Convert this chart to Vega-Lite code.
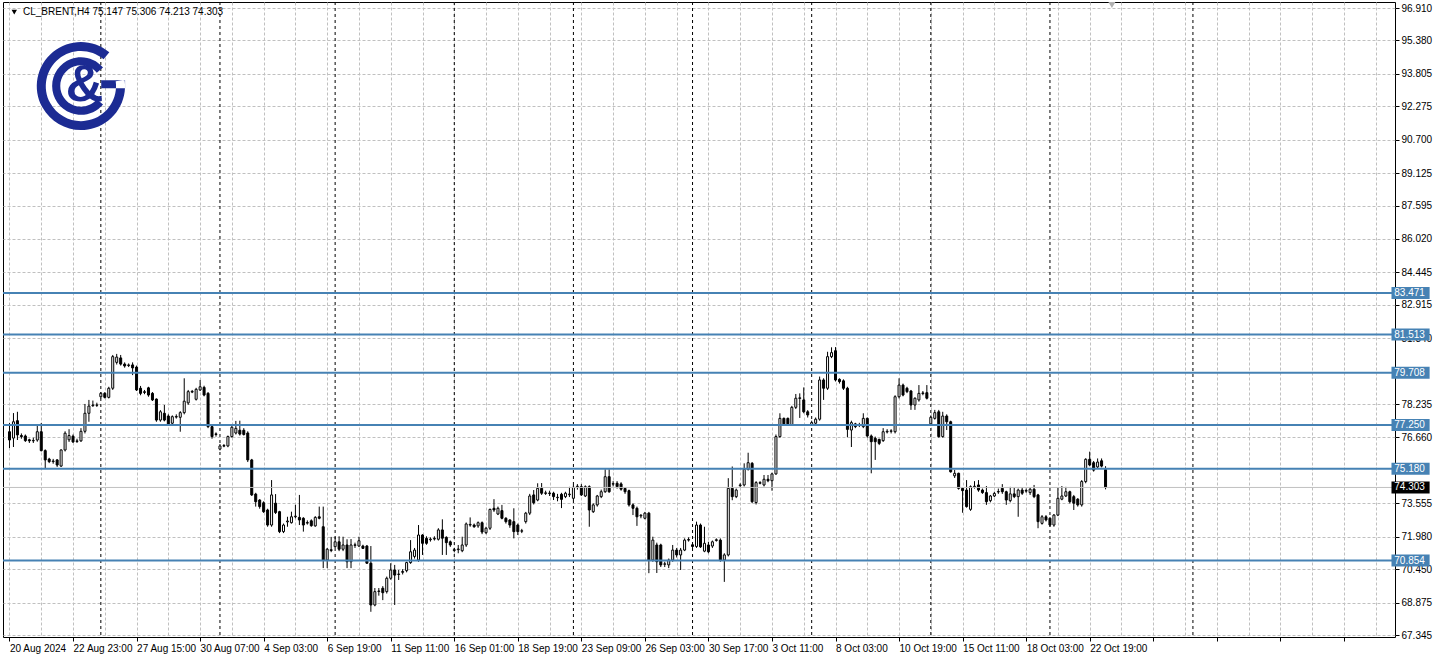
{
"$schema": "https://vega.github.io/schema/vega-lite/v6.json",
"width": 1392,
"height": 635,
"autosize": {"type": "none"},
"padding": {"left": 3, "top": 2, "right": 43, "bottom": 23},
"background": "white",
"config": {"view": {"stroke": "#000000", "strokeWidth": 1}, "font": "Liberation Sans"},
"datasets": {
"bars": [
{"n":1,"o":76.93,"h":77.34,"l":76.16,"c":76.54},
{"n":2,"o":76.63,"h":77.81,"l":76.21,"c":77.40},
{"n":3,"o":77.45,"h":77.87,"l":76.54,"c":76.78},
{"n":4,"o":76.75,"h":76.85,"l":76.60,"c":76.70},
{"n":5,"o":76.73,"h":76.80,"l":76.45,"c":76.51},
{"n":6,"o":76.55,"h":76.60,"l":76.40,"c":76.50},
{"n":7,"o":76.50,"h":76.65,"l":76.40,"c":76.52},
{"n":8,"o":76.54,"h":77.20,"l":76.46,"c":76.93},
{"n":9,"o":76.93,"h":77.34,"l":76.00,"c":76.04},
{"n":10,"o":76.04,"h":76.10,"l":75.17,"c":75.60},
{"n":11,"o":75.64,"h":75.70,"l":75.45,"c":75.52},
{"n":12,"o":75.52,"h":75.65,"l":75.42,"c":75.55},
{"n":13,"o":75.60,"h":75.64,"l":75.27,"c":75.36},
{"n":14,"o":75.31,"h":76.10,"l":75.27,"c":76.07},
{"n":15,"o":76.07,"h":76.95,"l":76.00,"c":76.86},
{"n":16,"o":76.55,"h":77.05,"l":76.45,"c":76.75},
{"n":17,"o":76.72,"h":76.80,"l":76.40,"c":76.45},
{"n":18,"o":76.47,"h":76.60,"l":76.40,"c":76.50},
{"n":19,"o":76.50,"h":77.10,"l":76.45,"c":76.95},
{"n":20,"o":76.95,"h":78.24,"l":76.85,"c":77.80},
{"n":21,"o":77.80,"h":78.43,"l":77.40,"c":78.14},
{"n":22,"o":78.16,"h":78.40,"l":78.10,"c":78.19},
{"n":23,"o":78.19,"h":78.30,"l":78.10,"c":78.18},
{"n":24,"o":78.58,"h":78.80,"l":78.50,"c":78.74},
{"n":25,"o":78.74,"h":78.80,"l":78.50,"c":78.55},
{"n":26,"o":78.55,"h":79.05,"l":78.50,"c":78.98},
{"n":27,"o":78.98,"h":80.55,"l":78.90,"c":80.47},
{"n":28,"o":80.20,"h":80.60,"l":80.10,"c":80.45},
{"n":29,"o":80.41,"h":80.55,"l":80.05,"c":80.12},
{"n":30,"o":80.12,"h":80.20,"l":79.95,"c":80.03},
{"n":31,"o":80.05,"h":80.15,"l":79.98,"c":80.08},
{"n":32,"o":80.08,"h":80.20,"l":79.60,"c":79.94},
{"n":33,"o":79.98,"h":80.05,"l":78.85,"c":78.90},
{"n":34,"o":78.98,"h":79.09,"l":78.65,"c":78.74},
{"n":35,"o":78.78,"h":78.90,"l":78.70,"c":78.82},
{"n":36,"o":79.00,"h":79.05,"l":78.58,"c":78.66},
{"n":37,"o":78.74,"h":78.80,"l":78.38,"c":78.43},
{"n":38,"o":78.47,"h":78.50,"l":77.40,"c":77.48},
{"n":39,"o":77.48,"h":77.95,"l":77.40,"c":77.87},
{"n":40,"o":77.80,"h":78.19,"l":77.42,"c":77.48},
{"n":41,"o":77.67,"h":77.75,"l":77.20,"c":77.25},
{"n":42,"o":77.33,"h":77.70,"l":77.25,"c":77.64},
{"n":43,"o":77.62,"h":77.75,"l":77.55,"c":77.65},
{"n":44,"o":77.61,"h":77.90,"l":76.93,"c":77.83},
{"n":45,"o":77.83,"h":79.45,"l":77.75,"c":78.37},
{"n":46,"o":78.29,"h":78.90,"l":78.20,"c":78.82},
{"n":47,"o":78.80,"h":78.90,"l":78.75,"c":78.83},
{"n":48,"o":78.46,"h":79.00,"l":78.40,"c":78.93},
{"n":49,"o":78.90,"h":79.37,"l":78.85,"c":79.05},
{"n":50,"o":79.02,"h":79.10,"l":78.60,"c":78.66},
{"n":51,"o":78.74,"h":78.80,"l":77.10,"c":77.17},
{"n":52,"o":77.17,"h":77.20,"l":76.60,"c":76.70},
{"n":53,"o":76.80,"h":76.90,"l":76.70,"c":76.83},
{"n":54,"o":76.11,"h":76.35,"l":76.05,"c":76.26},
{"n":55,"o":76.25,"h":76.35,"l":76.20,"c":76.28},
{"n":56,"o":76.26,"h":76.75,"l":76.20,"c":76.70},
{"n":57,"o":76.70,"h":77.20,"l":76.65,"c":77.14},
{"n":58,"o":76.87,"h":77.44,"l":76.80,"c":77.09},
{"n":59,"o":77.00,"h":77.45,"l":76.75,"c":76.82},
{"n":60,"o":77.00,"h":77.10,"l":76.75,"c":76.80},
{"n":61,"o":76.87,"h":76.95,"l":75.50,"c":75.60},
{"n":62,"o":75.60,"h":75.65,"l":73.90,"c":73.95},
{"n":63,"o":73.99,"h":74.05,"l":73.40,"c":73.63},
{"n":64,"o":73.71,"h":73.75,"l":73.30,"c":73.40},
{"n":65,"o":73.58,"h":73.65,"l":73.10,"c":73.16},
{"n":66,"o":73.24,"h":73.30,"l":72.45,"c":72.53},
{"n":67,"o":72.53,"h":74.65,"l":72.45,"c":73.95},
{"n":68,"o":73.56,"h":73.99,"l":73.05,"c":73.12},
{"n":69,"o":73.16,"h":73.20,"l":72.15,"c":72.22},
{"n":70,"o":72.22,"h":72.60,"l":72.15,"c":72.53},
{"n":71,"o":72.68,"h":72.92,"l":72.45,"c":72.72},
{"n":72,"o":72.64,"h":73.16,"l":72.60,"c":72.92},
{"n":73,"o":72.92,"h":73.48,"l":72.85,"c":72.95},
{"n":74,"o":72.89,"h":73.95,"l":72.53,"c":72.77},
{"n":75,"o":72.85,"h":72.90,"l":72.22,"c":72.53},
{"n":76,"o":72.62,"h":72.75,"l":72.55,"c":72.65},
{"n":77,"o":72.73,"h":72.80,"l":72.45,"c":72.50},
{"n":78,"o":72.49,"h":72.95,"l":72.45,"c":72.89},
{"n":79,"o":72.92,"h":73.40,"l":72.80,"c":72.85},
{"n":80,"o":72.45,"h":73.40,"l":70.50,"c":70.88},
{"n":81,"o":70.88,"h":71.45,"l":70.50,"c":71.39},
{"n":82,"o":71.33,"h":71.97,"l":71.25,"c":71.37},
{"n":83,"o":71.51,"h":71.98,"l":71.45,"c":71.74},
{"n":84,"o":71.74,"h":72.00,"l":71.30,"c":71.39},
{"n":85,"o":71.39,"h":71.98,"l":71.30,"c":71.59},
{"n":86,"o":71.59,"h":71.86,"l":70.50,"c":70.80},
{"n":87,"o":70.80,"h":71.87,"l":70.50,"c":71.59},
{"n":88,"o":71.57,"h":71.70,"l":71.45,"c":71.60},
{"n":89,"o":71.54,"h":71.98,"l":71.50,"c":71.79},
{"n":90,"o":71.54,"h":71.60,"l":71.40,"c":71.43},
{"n":91,"o":71.54,"h":71.59,"l":70.70,"c":70.73},
{"n":92,"o":70.73,"h":71.54,"l":68.44,"c":68.76},
{"n":93,"o":68.76,"h":69.56,"l":68.70,"c":69.39},
{"n":94,"o":69.40,"h":69.56,"l":69.20,"c":69.42},
{"n":95,"o":69.55,"h":69.65,"l":68.99,"c":69.34},
{"n":96,"o":69.39,"h":70.10,"l":69.30,"c":70.02},
{"n":97,"o":70.02,"h":70.73,"l":69.95,"c":70.41},
{"n":98,"o":70.41,"h":70.65,"l":68.76,"c":70.17},
{"n":99,"o":70.20,"h":70.41,"l":69.94,"c":70.22},
{"n":100,"o":70.30,"h":70.45,"l":70.20,"c":70.34},
{"n":101,"o":70.38,"h":70.80,"l":70.30,"c":70.76},
{"n":102,"o":70.76,"h":71.82,"l":70.70,"c":71.27},
{"n":103,"o":71.05,"h":71.45,"l":70.95,"c":71.35},
{"n":104,"o":70.88,"h":72.53,"l":70.80,"c":72.06},
{"n":105,"o":72.06,"h":72.10,"l":71.12,"c":71.67},
{"n":106,"o":71.90,"h":72.00,"l":71.60,"c":71.67},
{"n":107,"o":71.84,"h":71.95,"l":71.75,"c":71.87},
{"n":108,"o":71.87,"h":72.00,"l":71.80,"c":71.90},
{"n":109,"o":71.86,"h":72.38,"l":71.80,"c":72.30},
{"n":110,"o":72.30,"h":72.80,"l":71.12,"c":71.91},
{"n":111,"o":71.95,"h":72.00,"l":71.12,"c":71.70},
{"n":112,"o":71.74,"h":71.80,"l":71.50,"c":71.59},
{"n":113,"o":71.33,"h":71.45,"l":71.25,"c":71.37},
{"n":114,"o":71.37,"h":71.59,"l":71.20,"c":71.40},
{"n":115,"o":71.32,"h":71.98,"l":71.25,"c":71.59},
{"n":116,"o":71.59,"h":72.65,"l":71.50,"c":72.58},
{"n":117,"o":72.53,"h":72.89,"l":72.45,"c":72.56},
{"n":118,"o":72.53,"h":72.60,"l":72.40,"c":72.45},
{"n":119,"o":72.49,"h":72.70,"l":72.40,"c":72.64},
{"n":120,"o":72.64,"h":72.70,"l":72.10,"c":72.20},
{"n":121,"o":72.17,"h":72.45,"l":72.10,"c":72.38},
{"n":122,"o":72.38,"h":73.30,"l":72.30,"c":73.27},
{"n":123,"o":73.32,"h":73.75,"l":73.15,"c":73.24},
{"n":124,"o":73.05,"h":73.40,"l":73.00,"c":73.32},
{"n":125,"o":73.21,"h":73.48,"l":72.80,"c":72.85},
{"n":126,"o":72.85,"h":72.90,"l":72.60,"c":72.69},
{"n":127,"o":72.77,"h":72.80,"l":72.40,"c":72.53},
{"n":128,"o":72.69,"h":73.32,"l":71.90,"c":72.22},
{"n":129,"o":72.53,"h":72.60,"l":72.06,"c":72.22},
{"n":130,"o":72.24,"h":72.35,"l":72.15,"c":72.26},
{"n":131,"o":72.69,"h":73.15,"l":72.60,"c":73.09},
{"n":132,"o":73.09,"h":74.00,"l":73.00,"c":73.90},
{"n":133,"o":73.95,"h":74.18,"l":73.50,"c":73.58},
{"n":134,"o":73.71,"h":74.50,"l":73.65,"c":74.26},
{"n":135,"o":74.26,"h":74.51,"l":73.95,"c":74.03},
{"n":136,"o":74.02,"h":74.15,"l":73.95,"c":74.05},
{"n":137,"o":74.04,"h":74.15,"l":73.90,"c":74.02},
{"n":138,"o":74.03,"h":74.10,"l":73.71,"c":73.87},
{"n":139,"o":73.82,"h":74.00,"l":73.65,"c":73.84},
{"n":140,"o":73.98,"h":74.05,"l":73.33,"c":73.74},
{"n":141,"o":73.87,"h":74.10,"l":73.80,"c":74.03},
{"n":142,"o":73.96,"h":74.33,"l":73.85,"c":73.99},
{"n":143,"o":73.79,"h":74.42,"l":73.70,"c":74.31},
{"n":144,"o":74.34,"h":74.46,"l":74.20,"c":74.36},
{"n":145,"o":74.34,"h":74.46,"l":73.90,"c":73.95},
{"n":146,"o":73.90,"h":74.40,"l":73.85,"c":74.34},
{"n":147,"o":74.34,"h":74.40,"l":72.45,"c":73.24},
{"n":148,"o":73.16,"h":73.55,"l":73.10,"c":73.48},
{"n":149,"o":73.48,"h":73.95,"l":73.40,"c":73.90},
{"n":150,"o":73.87,"h":74.20,"l":73.80,"c":74.10},
{"n":151,"o":74.10,"h":75.16,"l":74.05,"c":74.81},
{"n":152,"o":74.81,"h":75.16,"l":74.05,"c":74.10},
{"n":153,"o":74.46,"h":74.60,"l":74.35,"c":74.48},
{"n":154,"o":74.50,"h":74.60,"l":74.25,"c":74.34},
{"n":155,"o":74.47,"h":74.55,"l":74.15,"c":74.22},
{"n":156,"o":74.26,"h":74.30,"l":74.00,"c":74.10},
{"n":157,"o":74.15,"h":74.20,"l":73.40,"c":73.48},
{"n":158,"o":73.48,"h":73.55,"l":73.00,"c":73.32},
{"n":159,"o":73.32,"h":73.40,"l":72.49,"c":72.92},
{"n":160,"o":72.96,"h":73.05,"l":72.85,"c":72.99},
{"n":161,"o":72.85,"h":73.15,"l":72.80,"c":73.09},
{"n":162,"o":73.09,"h":73.15,"l":70.26,"c":70.88},
{"n":163,"o":70.88,"h":71.98,"l":70.80,"c":71.82},
{"n":164,"o":71.59,"h":71.70,"l":70.27,"c":70.80},
{"n":165,"o":71.59,"h":71.65,"l":70.55,"c":70.65},
{"n":166,"o":70.68,"h":70.80,"l":70.55,"c":70.70},
{"n":167,"o":70.65,"h":70.95,"l":70.50,"c":70.88},
{"n":168,"o":70.88,"h":71.59,"l":70.80,"c":71.35},
{"n":169,"o":71.35,"h":71.45,"l":71.00,"c":71.12},
{"n":170,"o":71.12,"h":71.45,"l":70.41,"c":71.35},
{"n":171,"o":71.35,"h":71.90,"l":71.30,"c":71.82},
{"n":172,"o":71.82,"h":71.95,"l":71.75,"c":71.85},
{"n":173,"o":71.60,"h":71.65,"l":71.45,"c":71.52},
{"n":174,"o":71.52,"h":72.69,"l":71.45,"c":72.53},
{"n":175,"o":72.53,"h":72.60,"l":71.45,"c":71.50},
{"n":176,"o":71.30,"h":72.45,"l":71.25,"c":71.67},
{"n":177,"o":71.59,"h":71.74,"l":71.20,"c":71.27},
{"n":178,"o":71.54,"h":71.80,"l":71.45,"c":71.74},
{"n":179,"o":71.80,"h":71.90,"l":71.75,"c":71.84},
{"n":180,"o":71.82,"h":71.90,"l":70.80,"c":70.88},
{"n":181,"o":70.88,"h":71.20,"l":69.85,"c":71.12},
{"n":182,"o":71.12,"h":74.74,"l":71.05,"c":74.26},
{"n":183,"o":74.26,"h":75.29,"l":73.70,"c":73.87},
{"n":184,"o":73.87,"h":74.25,"l":73.80,"c":74.18},
{"n":185,"o":74.39,"h":74.50,"l":74.30,"c":74.42},
{"n":186,"o":74.42,"h":75.44,"l":74.35,"c":75.16},
{"n":187,"o":75.16,"h":75.94,"l":75.10,"c":75.47},
{"n":188,"o":75.44,"h":75.50,"l":73.56,"c":73.63},
{"n":189,"o":73.59,"h":74.60,"l":73.50,"c":74.53},
{"n":190,"o":74.50,"h":74.60,"l":74.45,"c":74.53},
{"n":191,"o":74.42,"h":74.89,"l":74.35,"c":74.69},
{"n":192,"o":74.69,"h":74.89,"l":74.55,"c":74.62},
{"n":193,"o":74.62,"h":75.00,"l":74.15,"c":74.94},
{"n":194,"o":74.94,"h":76.80,"l":74.90,"c":76.70},
{"n":195,"o":76.70,"h":77.80,"l":76.65,"c":77.56},
{"n":196,"o":77.56,"h":77.60,"l":77.25,"c":77.30},
{"n":197,"o":77.56,"h":77.60,"l":77.25,"c":77.30},
{"n":198,"o":77.25,"h":78.15,"l":77.20,"c":78.08},
{"n":199,"o":78.08,"h":78.71,"l":78.00,"c":78.51},
{"n":200,"o":78.50,"h":78.74,"l":77.58,"c":78.53},
{"n":201,"o":78.43,"h":79.02,"l":77.80,"c":77.87},
{"n":202,"o":77.87,"h":77.95,"l":77.60,"c":77.72},
{"n":203,"o":77.26,"h":77.45,"l":77.20,"c":77.36},
{"n":204,"o":77.33,"h":77.60,"l":77.25,"c":77.52},
{"n":205,"o":77.52,"h":79.53,"l":77.45,"c":79.37},
{"n":206,"o":79.37,"h":79.45,"l":78.43,"c":78.98},
{"n":207,"o":78.98,"h":80.70,"l":78.90,"c":80.47},
{"n":208,"o":80.47,"h":80.91,"l":80.40,"c":80.66},
{"n":209,"o":80.75,"h":80.92,"l":79.30,"c":79.37},
{"n":210,"o":79.40,"h":79.45,"l":79.20,"c":79.29},
{"n":211,"o":79.33,"h":79.40,"l":78.90,"c":78.98},
{"n":212,"o":78.98,"h":79.05,"l":76.67,"c":77.04},
{"n":213,"o":77.01,"h":77.45,"l":76.21,"c":77.36},
{"n":214,"o":77.30,"h":77.35,"l":77.10,"c":77.17},
{"n":215,"o":77.24,"h":77.35,"l":77.15,"c":77.26},
{"n":216,"o":77.17,"h":77.80,"l":77.10,"c":77.56},
{"n":217,"o":77.56,"h":77.60,"l":76.65,"c":76.73},
{"n":218,"o":76.73,"h":76.80,"l":74.97,"c":76.46},
{"n":219,"o":76.62,"h":76.70,"l":75.60,"c":76.46},
{"n":220,"o":76.57,"h":76.60,"l":76.30,"c":76.38},
{"n":221,"o":76.51,"h":77.10,"l":76.45,"c":76.93},
{"n":222,"o":76.92,"h":77.05,"l":76.85,"c":76.95},
{"n":223,"o":76.95,"h":77.05,"l":76.85,"c":76.97},
{"n":224,"o":76.93,"h":78.65,"l":76.85,"c":78.58},
{"n":225,"o":78.58,"h":79.45,"l":78.50,"c":79.13},
{"n":226,"o":79.13,"h":79.20,"l":78.60,"c":78.66},
{"n":227,"o":78.98,"h":79.05,"l":78.75,"c":78.82},
{"n":228,"o":78.85,"h":78.90,"l":77.96,"c":78.19},
{"n":229,"o":78.19,"h":78.55,"l":77.96,"c":78.51},
{"n":230,"o":78.43,"h":79.13,"l":78.35,"c":78.74},
{"n":231,"o":78.73,"h":78.85,"l":78.65,"c":78.76},
{"n":232,"o":78.77,"h":79.13,"l":78.45,"c":78.51},
{"n":233,"o":77.30,"h":77.70,"l":77.25,"c":77.61},
{"n":234,"o":77.56,"h":77.96,"l":77.50,"c":77.83},
{"n":235,"o":77.87,"h":77.96,"l":76.65,"c":76.70},
{"n":236,"o":76.70,"h":77.87,"l":76.65,"c":77.67},
{"n":237,"o":77.67,"h":77.75,"l":77.01,"c":77.40},
{"n":238,"o":77.40,"h":77.45,"l":75.00,"c":75.04},
{"n":239,"o":74.85,"h":75.13,"l":74.75,"c":74.97},
{"n":240,"o":74.97,"h":75.00,"l":74.20,"c":74.26},
{"n":241,"o":74.26,"h":74.30,"l":73.11,"c":74.15},
{"n":242,"o":74.18,"h":74.65,"l":73.35,"c":73.40},
{"n":243,"o":73.27,"h":74.40,"l":73.20,"c":74.34},
{"n":244,"o":74.33,"h":74.60,"l":74.25,"c":74.36},
{"n":245,"o":74.42,"h":74.65,"l":74.10,"c":74.18},
{"n":246,"o":74.18,"h":74.25,"l":74.00,"c":74.06},
{"n":247,"o":74.06,"h":74.37,"l":73.48,"c":73.63},
{"n":248,"o":73.68,"h":73.95,"l":73.60,"c":73.90},
{"n":249,"o":73.90,"h":74.10,"l":73.85,"c":74.02},
{"n":250,"o":74.09,"h":74.25,"l":74.00,"c":74.11},
{"n":251,"o":74.26,"h":74.46,"l":74.00,"c":74.10},
{"n":252,"o":74.10,"h":74.15,"l":73.48,"c":73.71},
{"n":253,"o":73.68,"h":74.33,"l":73.60,"c":74.00},
{"n":254,"o":74.00,"h":74.28,"l":73.80,"c":73.87},
{"n":255,"o":73.87,"h":74.25,"l":72.92,"c":74.18},
{"n":256,"o":74.18,"h":74.30,"l":73.95,"c":74.03},
{"n":257,"o":74.13,"h":74.25,"l":74.05,"c":74.16},
{"n":258,"o":74.06,"h":74.30,"l":73.95,"c":74.22},
{"n":259,"o":74.22,"h":74.42,"l":73.80,"c":73.87},
{"n":260,"o":73.95,"h":74.00,"l":72.38,"c":72.69},
{"n":261,"o":72.61,"h":73.00,"l":72.55,"c":72.92},
{"n":262,"o":72.92,"h":73.00,"l":72.70,"c":72.77},
{"n":263,"o":72.85,"h":72.90,"l":72.45,"c":72.53},
{"n":264,"o":72.53,"h":73.05,"l":72.45,"c":73.00},
{"n":265,"o":73.00,"h":74.28,"l":72.95,"c":73.79},
{"n":266,"o":73.75,"h":74.37,"l":73.70,"c":73.90},
{"n":267,"o":73.90,"h":74.33,"l":73.85,"c":74.10},
{"n":268,"o":74.10,"h":74.15,"l":73.55,"c":73.63},
{"n":269,"o":73.87,"h":73.95,"l":73.24,"c":73.56},
{"n":270,"o":73.75,"h":73.80,"l":73.40,"c":73.48},
{"n":271,"o":73.48,"h":74.65,"l":73.40,"c":74.58},
{"n":272,"o":74.58,"h":75.68,"l":74.50,"c":75.63},
{"n":273,"o":75.63,"h":75.99,"l":75.30,"c":75.36},
{"n":274,"o":75.47,"h":75.55,"l":75.05,"c":75.12},
{"n":275,"o":75.27,"h":75.67,"l":75.20,"c":75.50},
{"n":276,"o":75.56,"h":75.67,"l":75.25,"c":75.31},
{"n":277,"o":75.147,"h":75.306,"l":74.213,"c":74.303}
],
"levels": [{"price":83.471},{"price":81.513},{"price":79.708},{"price":77.25},{"price":75.18},{"price":70.854}],
"last": [{"price":74.303}],
"weeks": [{"n":24},{"n":54},{"n":83},{"n":113},{"n":143},{"n":173},{"n":203},{"n":233},{"n":263},{"n":299}]
},
"layer": [
{
"data": {"name": "weeks"},
"mark": {"type": "rule", "color": "#000000", "strokeWidth": 1, "strokeDash": [3, 3]},
"encoding": {
"x": {"field": "n", "type": "quantitative", "scale": {"domain": [0.625, 348.625], "nice": false, "zero": false},
"axis": {"values": [1,9,17,25,33,41,49,57,65,73,81,89,97,105,113,121,129,137,145,153,161,169,177,185,193,201,209,217,225,233,241,249,257,265,273,281,289,297,305,313,321,329,337,345],
"tickCount": 200,
"orient": "bottom", "title": null, "domain": false, "grid": true, "gridColor": "#c0c0c0", "gridDash": [3, 2], "gridWidth": 1, "gridOpacity": 1,
"ticks": true, "tickColor": "#000000", "tickSize": 4, "tickWidth": 1,
"tickOpacity": {"condition": {"test": "datum.value % 16 == 1", "value": 1}, "value": 0},
"labelExpr": "datum.value % 16 == 1 ? (['20 Aug 2024','22 Aug 23:00','27 Aug 15:00','30 Aug 07:00','4 Sep 03:00','6 Sep 19:00','11 Sep 11:00','16 Sep 01:00','18 Sep 19:00','23 Sep 09:00','26 Sep 03:00','30 Sep 17:00','3 Oct 11:00','8 Oct 03:00','10 Oct 19:00','15 Oct 11:00','18 Oct 03:00','22 Oct 19:00'][(datum.value - 1) / 16] || '') : ''",
"labelAlign": "left", "labelBaseline": "top", "labelPadding": 2, "labelDx": 1,
"labelFont": "Liberation Sans", "labelFontSize": 10, "labelColor": "#000000",
"labelOverlap": false, "labelBound": false, "labelFlush": false}}
}
},
{
"data": {"name": "bars"},
"mark": {"type": "rule", "color": "#000000", "strokeWidth": 1},
"encoding": {
"x": {"field": "n", "type": "quantitative"},
"y": {"field": "l", "type": "quantitative", "scale": {"domain": [67.251, 97.193], "nice": false, "zero": false},
"axis": {"orient": "right", "title": null, "values": [96.91,95.38,93.805,92.275,90.7,89.125,87.595,86.02,84.445,82.915,81.34,78.235,76.66,73.555,71.98,70.45,68.875,67.345],
"tickCount": 200,
"format": ".3f", "domain": false, "grid": true, "gridColor": "#c0c0c0", "gridDash": [3, 2], "gridWidth": 1, "gridOpacity": 1,
"ticks": true, "tickColor": "#000000", "tickSize": 4, "labelPadding": 2,
"labelFont": "Liberation Sans", "labelFontSize": 10, "labelColor": "#000000", "labelOverlap": false, "labelBound": false, "labelFlush": false}},
"y2": {"field": "h"}
}
},
{
"data": {"name": "bars"},
"mark": {"type": "bar", "width": 2, "stroke": "#000000", "strokeWidth": 1},
"encoding": {
"x": {"field": "n", "type": "quantitative"},
"y": {"field": "o", "type": "quantitative"},
"y2": {"field": "c"},
"fill": {"condition": {"test": "datum.c >= datum.o", "value": "#ffffff"}, "value": "#000000"}
}
},
{
"data": {"name": "last"},
"mark": {"type": "rule", "color": "#c0c0c0", "strokeWidth": 1},
"encoding": {"y": {"field": "price", "type": "quantitative"}}
},
{
"data": {"name": "levels"},
"mark": {"type": "rule", "color": "#4682b4", "strokeWidth": 2},
"encoding": {"y": {"field": "price", "type": "quantitative"}}
},
{
"data": {"name": "levels"},
"mark": {"type": "rule", "color": "#4682b4", "strokeWidth": 12, "strokeCap": "butt"},
"encoding": {"x": {"datum": 349.0}, "x2": {"datum": 358.6}, "y": {"field": "price", "type": "quantitative"}}
},
{
"data": {"name": "levels"},
"mark": {"type": "text", "color": "#ffffff", "align": "left", "baseline": "middle", "font": "Liberation Sans", "fontSize": 10},
"encoding": {"x": {"datum": 349.7}, "y": {"field": "price", "type": "quantitative"}, "text": {"field": "price", "type": "quantitative", "format": ".3f"}}
},
{
"data": {"name": "last"},
"mark": {"type": "rule", "color": "#000000", "strokeWidth": 12, "strokeCap": "butt"},
"encoding": {"x": {"datum": 349.0}, "x2": {"datum": 358.6}, "y": {"field": "price", "type": "quantitative"}}
},
{
"data": {"name": "last"},
"mark": {"type": "text", "color": "#ffffff", "align": "left", "baseline": "middle", "font": "Liberation Sans", "fontSize": 10},
"encoding": {"x": {"datum": 349.7}, "y": {"field": "price", "type": "quantitative"}, "text": {"field": "price", "type": "quantitative", "format": ".3f"}}
},
{
"data": {"values": [{"t": "CL_BRENT,H4  75.147 75.306 74.213 74.303"}]},
"mark": {"type": "text", "color": "#000000", "align": "left", "baseline": "middle", "font": "Liberation Sans", "fontSize": 10},
"encoding": {"x": {"datum": 4.4}, "y": {"datum": 96.72}, "text": {"field": "t", "type": "nominal"}}
},
{
"data": {"values": [{"k": "menu"}]},
"mark": {"type": "point", "shape": "triangle-down", "filled": true, "color": "#000000", "opacity": 1, "size": 30},
"encoding": {"x": {"datum": 2.2}, "y": {"datum": 96.72}}
},
{
"data": {"values": [{"k": "shift"}]},
"mark": {"type": "point", "shape": "triangle-down", "filled": true, "color": "#b0b0b0", "opacity": 1, "size": 50},
"encoding": {"x": {"datum": 278.6}, "y": {"datum": 97.05}}
},
{
"data": {"values": [{"k": "logo"}]},
"mark": {"type": "point", "filled": true, "color": "#1c2b93", "opacity": 1, "strokeWidth": 0, "size": 8100,
"shape": "M 0.63 -0.751 A 0.98 0.98 0 1 0 0.97 -0.136 L 0.772 -0.108 A 0.78 0.78 0 1 1 0.502 -0.597 Z M 0.45 -0.13 L 0.98 -0.13 L 0.98 0.05 L 0.45 0.05 Z M 0.49 -0.411 A 0.64 0.64 0 1 0 0.49 0.411 L 0.352 0.296 A 0.46 0.46 0 1 1 0.352 -0.296 Z"},
"encoding": {"x": {"datum": 19}, "y": {"datum": 93.23}}
},
{
"data": {"values": [{"t": "&"}]},
"mark": {"type": "text", "color": "#1c2b93", "align": "center", "baseline": "middle", "font": "Liberation Sans", "fontWeight": "bold", "fontSize": 52},
"encoding": {"x": {"datum": 19.9}, "y": {"datum": 93.28}, "text": {"field": "t", "type": "nominal"}}
}
]
}
